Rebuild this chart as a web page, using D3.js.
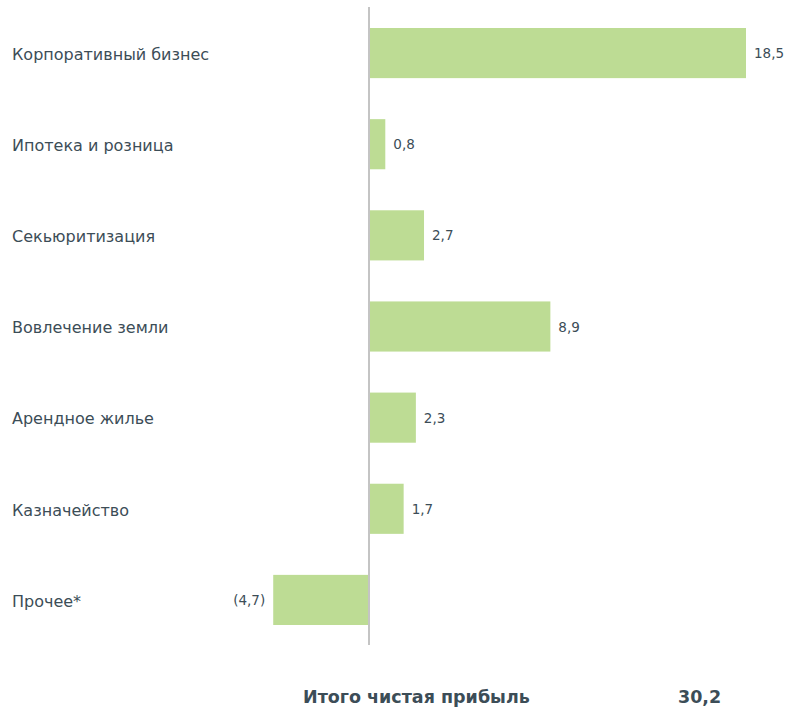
<!DOCTYPE html>
<html>
<head>
<meta charset="utf-8">
<script src="https://cdn.jsdelivr.net/npm/d3@7"></script>
<style>
  body { margin: 0; background: #fff; }
  text { font-family: "DejaVu Sans", Verdana, sans-serif; fill: #3c4d57; }
</style>
</head>
<body>
<div id="chart"></div>
<script>
var categories = ["Корпоративный бизнес", "Ипотека и розница", "Секьюритизация",
  "Вовлечение земли", "Арендное жилье", "Казначейство", "Прочее*"];
var values = [18.5, 0.8, 2.7, 8.9, 2.3, 1.7, -4.7];
var totalLabel = "Итого чистая прибыль";
var totalValue = 30.2;

var width = 788, height = 712;

var svg = d3.select("#chart")
  .append("svg")
  .attr("width", width)
  .attr("height", height);

// zero at x=369, 18,5 ends near 746
var x = d3.scaleLinear()
  .domain([0, 18.5])
  .range([369, 746]);

var y = d3.scaleBand()
  .domain(categories)
  .range([28, 625])
  .paddingInner(0.45)
  .paddingOuter(0);

function fmt(v) {
  var s = d3.format(".1f")(Math.abs(v)).replace(".", ",");
  return v < 0 ? "(" + s + ")" : s;
}

svg.selectAll(".bar")
  .data(values)
  .enter()
  .append("rect")
    .attr("class", "bar")
    .attr("x", function(d) { return x(Math.min(0, d)); })
    .attr("y", function(d, i) { return y(categories[i]); })
    .attr("width", function(d) { return Math.abs(x(d) - x(0)); })
    .attr("height", y.bandwidth())
    .attr("fill", "#bddc94");

// zero line
svg.append("line")
  .attr("x1", x(0)).attr("x2", x(0))
  .attr("y1", 7).attr("y2", 645)
  .attr("stroke", "#c4c4c4")
  .attr("stroke-width", 2);

// category labels
svg.selectAll(".cat")
  .data(categories)
  .enter()
  .append("text")
    .attr("class", "cat")
    .attr("x", 12)
    .attr("y", function(d) { return y(d) + y.bandwidth() / 2; })
    .attr("dy", "0.42em")
    .style("font-size", "16px")
    .text(function(d) { return d; });

// value labels
svg.selectAll(".val")
  .data(values)
  .enter()
  .append("text")
    .attr("class", "val")
    .attr("x", function(d) { return d < 0 ? x(d) - 8 : x(d) + 8; })
    .attr("y", function(d, i) { return y(categories[i]) + y.bandwidth() / 2; })
    .attr("dy", "0.38em")
    .attr("text-anchor", function(d) { return d < 0 ? "end" : "start"; })
    .style("font-size", "13.5px")
    .text(function(d) { return fmt(d); });

// total row
svg.append("text")
  .attr("x", 303)
  .attr("y", 703)
  .style("font-size", "17.5px")
  .style("font-weight", "bold")
  .text(totalLabel);

svg.append("text")
  .attr("x", 678)
  .attr("y", 703)
  .style("font-size", "17.5px")
  .style("font-weight", "bold")
  .text(fmt(totalValue));
</script>
</body>
</html>
